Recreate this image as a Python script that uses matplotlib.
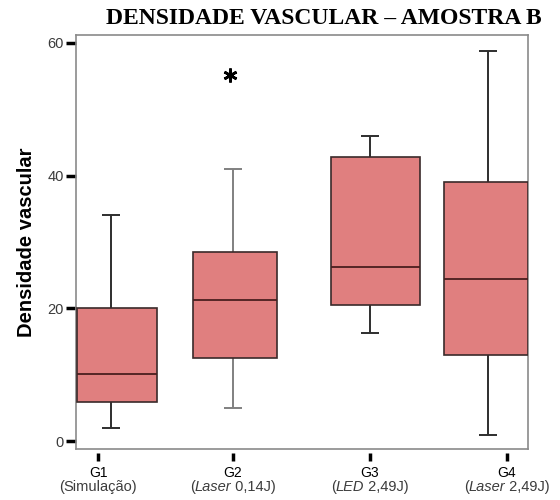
import matplotlib
matplotlib.use("Agg")
import matplotlib.pyplot as plt
from matplotlib.offsetbox import TextArea, HPacker, AnnotationBbox

plt.rcParams['font.family'] = ['Liberation Sans', 'DejaVu Sans']

# ---- data ----
groups = ["G1", "G2", "G3", "G4"]
sub_italic = ["", "Laser", "LED", "Laser"]
sub_plain = ["Simulação", " 0,14J", " 2,49J", " 2,49J"]
whislo = [2.0, 5.0, 16.3, 0.9]
q1 = [5.9, 12.5, 20.5, 13.0]
med = [10.1, 21.3, 26.2, 24.4]
q3 = [20.0, 28.5, 42.8, 39.0]
whishi = [34.0, 41.0, 46.0, 58.8]
outlier_value = 55.2

# ---- layout (style) ----
box_pos = [0.41, 1.59, 2.995, 4.10]
box_w = [0.80, 0.84, 0.89, 0.84]
whisk_pos = [0.35, 1.57, 2.94, 4.12]
tick_pos = [0.22, 1.57, 2.94, 4.31]
outlier_x = 1.54
fill = "#E07F7F"
txtcol = "#3c3c3c"

fig = plt.figure(figsize=(5.6, 5.0), dpi=100)
ax = fig.add_axes([76/560, 51/500, 452/560, 414/500])

stats = []
for i in range(4):
    stats.append(dict(med=med[i], q1=q1[i], q3=q3[i], whislo=q1[i], whishi=q3[i], fliers=[]))
ax.bxp(stats, positions=box_pos, widths=box_w, patch_artist=True,
       showcaps=False, showfliers=False,
       boxprops=dict(facecolor=fill, edgecolor="#3a2a2a", linewidth=1.2),
       medianprops=dict(color="#4a1e1e", linewidth=1.3),
       whiskerprops=dict(linewidth=0), manage_ticks=False, zorder=3)

for i in range(4):
    col = "#808080" if i == 1 else "#2e2e2e"
    ax.vlines(whisk_pos[i], q3[i], whishi[i], color=col, lw=1.4, zorder=2)
    ax.vlines(whisk_pos[i], whislo[i], q1[i], color=col, lw=1.4, zorder=2)
    ax.hlines([whishi[i], whislo[i]], whisk_pos[i]-0.09, whisk_pos[i]+0.09, color=col, lw=1.4, zorder=2)

ax.plot([outlier_x], [outlier_value], marker=(6, 2, 0), markersize=10, mew=1.9, color="black", ls="none")

ax.set_xlim(0, 4.52)
ax.set_ylim(-1.2, 61.2)
ax.set_yticks([0, 20, 40, 60])
ax.set_xticks(tick_pos)
ax.set_xticklabels(groups, color=txtcol, fontsize=10.5)
for lab in ax.get_yticklabels():
    lab.set_color(txtcol)
    lab.set_fontsize(10.5)
ax.tick_params(axis='y', length=7, width=2.5, color="black", pad=2)
ax.tick_params(axis='x', length=6, width=2.5, color="black", pad=3)

for i in range(4):
    parts = [TextArea("(", textprops=dict(color=txtcol, fontsize=10.5))]
    if sub_italic[i]:
        parts.append(TextArea(sub_italic[i], textprops=dict(color=txtcol, fontsize=10.5, style="italic")))
    parts.append(TextArea(sub_plain[i] + ")", textprops=dict(color=txtcol, fontsize=10.5)))
    box = HPacker(children=parts, pad=0, sep=0, align="baseline")
    ab = AnnotationBbox(box, (tick_pos[i], 0), xycoords=ax.get_xaxis_transform(),
                        xybox=(0, -27.5), boxcoords="offset points", frameon=False,
                        box_alignment=(0.5, 0.5), annotation_clip=False, pad=0)
    ax.add_artist(ab)

for s in ["left", "top", "right"]:
    ax.spines[s].set_color("#8a8a8a")
    ax.spines[s].set_linewidth(1.2)
ax.spines["bottom"].set_position(("outward", 3))
ax.spines["bottom"].set_visible(False)
ax.plot([0, 1], [0, 0], transform=ax.transAxes, color="#8a8a8a", lw=1.2, clip_on=False)

ax.set_ylabel("Densidade vascular", fontsize=14.5, fontweight="bold", labelpad=8)

fig.text(324/560, 1 - 18/500, "DENSIDADE VASCULAR – AMOSTRA B", ha="center", va="center",
         family="Liberation Serif", fontweight="bold", fontsize=17)

fig.savefig("out.png", dpi=100)
